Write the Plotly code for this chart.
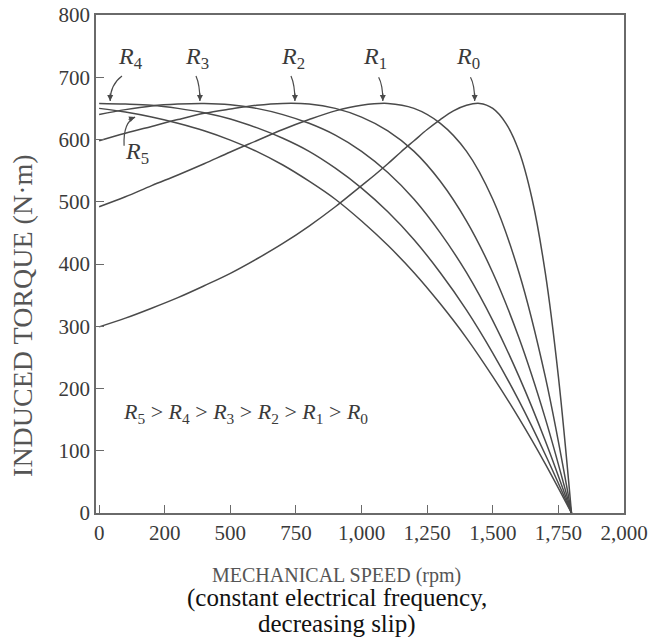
import plotly.graph_objects as go

# Mechanical speed (rpm) sample points
speed = [0, 100, 200, 300, 400, 500, 600, 700, 800, 900, 1000, 1100, 1200,
         1300, 1400, 1500, 1600, 1700, 1800]
# R0 has a sharp peak, so it is read more densely above 1,000 rpm
speed_R0 = [0, 100, 200, 300, 400, 500, 600, 700, 800, 900, 1000, 1050, 1100,
            1150, 1200, 1250, 1300, 1350, 1400, 1450, 1500, 1550, 1600, 1650,
            1700, 1750, 1800]

# Induced torque (N·m)
torque_R0 = [299, 313, 329, 346, 365, 385, 408, 433, 461, 492, 526, 543, 561,
             580, 598, 616, 632, 646, 655, 658, 650, 626, 581, 504, 386, 219, 0]
torque_R1 = [492, 508, 526, 543, 561, 580, 598, 616, 632, 646, 655, 658, 650,
             626, 581, 504, 386, 219, 0]
torque_R2 = [598, 610, 621, 632, 642, 649, 655, 658, 657, 650, 636, 614, 581,
             533, 469, 386, 281, 152, 0]
torque_R3 = [640, 648, 654, 657, 658, 656, 650, 640, 626, 607, 581, 547, 504,
             450, 386, 309, 219, 116, 0]
torque_R4 = [658, 657, 655, 650, 643, 633, 619, 602, 581, 554, 522, 484, 439,
             386, 326, 257, 180, 94, 0]
torque_R5 = [650, 644, 636, 626, 614, 599, 581, 559, 533, 504, 469, 430, 386,
             336, 281, 219, 152, 79, 0]

curves = [
    ("R0", speed_R0, torque_R0), ("R1", speed, torque_R1), ("R2", speed, torque_R2),
    ("R3", speed, torque_R3), ("R4", speed, torque_R4), ("R5", speed, torque_R5),
]

x_tickvals = [0, 250, 500, 750, 1000, 1250, 1500, 1750, 2000]
x_ticktext = ["0", "200", "500", "750", "1,000", "1,250", "1,500", "1,750", "2,000"]
y_tickvals = [0, 100, 200, 300, 400, 500, 600, 700, 800]

SERIF = "Liberation Serif, Times New Roman, serif"
LINE = "#4a4a4a"
AXIS = "#6a6a6a"
TXT = "#3a3a3a"

fig = go.Figure()
for name, xs, vals in curves:
    fig.add_trace(go.Scatter(x=xs, y=vals, mode="lines", name=name,
                             line=dict(color=LINE, width=1.5, shape="spline", smoothing=1.0),
                             showlegend=False, hoverinfo="x+y"))

# Curve labels (text) and curved pointer arrows
labels = [
    ("4", 118, 731), ("3", 373, 731), ("2", 738, 731),
    ("1", 1050, 731), ("0", 1404, 731), ("5", 145, 578),
]
for sub, lx, ly in labels:
    fig.add_annotation(x=lx, y=ly, xref="x", yref="y", showarrow=False,
                       xanchor="center", yanchor="middle",
                       text=f"<i>R</i><sub>{sub}</sub>",
                       font=dict(family=SERIF, size=24, color=TXT))

# (tail x, tail y, ctrl x, ctrl y, tip x, tip y, arrow ax, arrow ay)
arrows = [
    (87, 702, 42, 688, 42, 662, 0, -9),
    (369, 702, 384, 688, 384, 662, 0, -9),
    (731, 702, 746, 688, 746, 662, 0, -9),
    (1065, 700, 1081, 688, 1081, 662, 0, -9),
    (1415, 700, 1431, 688, 1431, 662, 0, -9),
    (95, 590, 91, 628, 137, 636, -8, 3),
]
for tx, ty, cx, cy, hx, hy, ax, ay in arrows:
    fig.add_shape(type="path", xref="x", yref="y",
                  path=f"M {tx},{ty} Q {cx},{cy} {hx},{hy}",
                  line=dict(color=LINE, width=1.2))
    fig.add_annotation(x=hx, y=hy, xref="x", yref="y", text="", showarrow=True,
                       ax=ax, ay=ay, arrowhead=2, arrowsize=1, arrowwidth=1.2,
                       arrowcolor=LINE, standoff=0)

fig.add_annotation(x=556, y=160, xref="x", yref="y", showarrow=False,
                   xanchor="center", yanchor="middle",
                   text="<i>R</i><sub>5</sub> > <i>R</i><sub>4</sub> > <i>R</i><sub>3</sub> > "
                        "<i>R</i><sub>2</sub> > <i>R</i><sub>1</sub> > <i>R</i><sub>0</sub>",
                   font=dict(family=SERIF, size=22, color=TXT))

# Axis titles
fig.add_annotation(x=-0.138, y=0.396, xref="paper", yref="paper", showarrow=False,
                   xanchor="center", yanchor="middle",
                   text="INDUCED TORQUE (N·m)", textangle=-90,
                   font=dict(family=SERIF, size=28, color="#555555"))
fig.add_annotation(x=0.456, y=-0.1265, xref="paper", yref="paper", showarrow=False,
                   text="MECHANICAL SPEED (rpm)", xanchor="center", yanchor="middle",
                   font=dict(family=SERIF, size=20, color="#555555"))
fig.add_annotation(x=0.456, y=-0.1707, xref="paper", yref="paper", showarrow=False,
                   text="(constant electrical frequency,", xanchor="center", yanchor="middle",
                   font=dict(family=SERIF, size=25, color="#111111"))
fig.add_annotation(x=0.456, y=-0.2229, xref="paper", yref="paper", showarrow=False,
                   text="decreasing slip)", xanchor="center", yanchor="middle",
                   font=dict(family=SERIF, size=25, color="#111111"))

fig.update_xaxes(range=[-12, 2000], tickvals=x_tickvals, ticktext=x_ticktext,
                 ticks="inside", ticklen=8, tickwidth=1.2, tickcolor=AXIS,
                 showline=True, linecolor=AXIS, linewidth=1.5, mirror=True,
                 showgrid=False, zeroline=False, automargin=False,
                 ticklabeloverflow="allow",
                 tickfont=dict(family=SERIF, size=21, color=TXT))
fig.update_yaxes(range=[0, 800], tickvals=y_tickvals,
                 ticks="inside", ticklen=8, tickwidth=1.2, tickcolor=AXIS,
                 showline=True, linecolor=AXIS, linewidth=1.5, mirror=True,
                 showgrid=False, zeroline=False, automargin=False,
                 ticklabeloverflow="allow",
                 tickfont=dict(family=SERIF, size=21, color=TXT))

fig.update_layout(width=654, height=637, margin=dict(l=96, r=30, t=15, b=124),
                  plot_bgcolor="white", paper_bgcolor="white")

fig.write_html("out.html", config={"displayModeBar": False},
               post_script="document.body.style.margin='0';document.body.style.overflow='hidden';")
